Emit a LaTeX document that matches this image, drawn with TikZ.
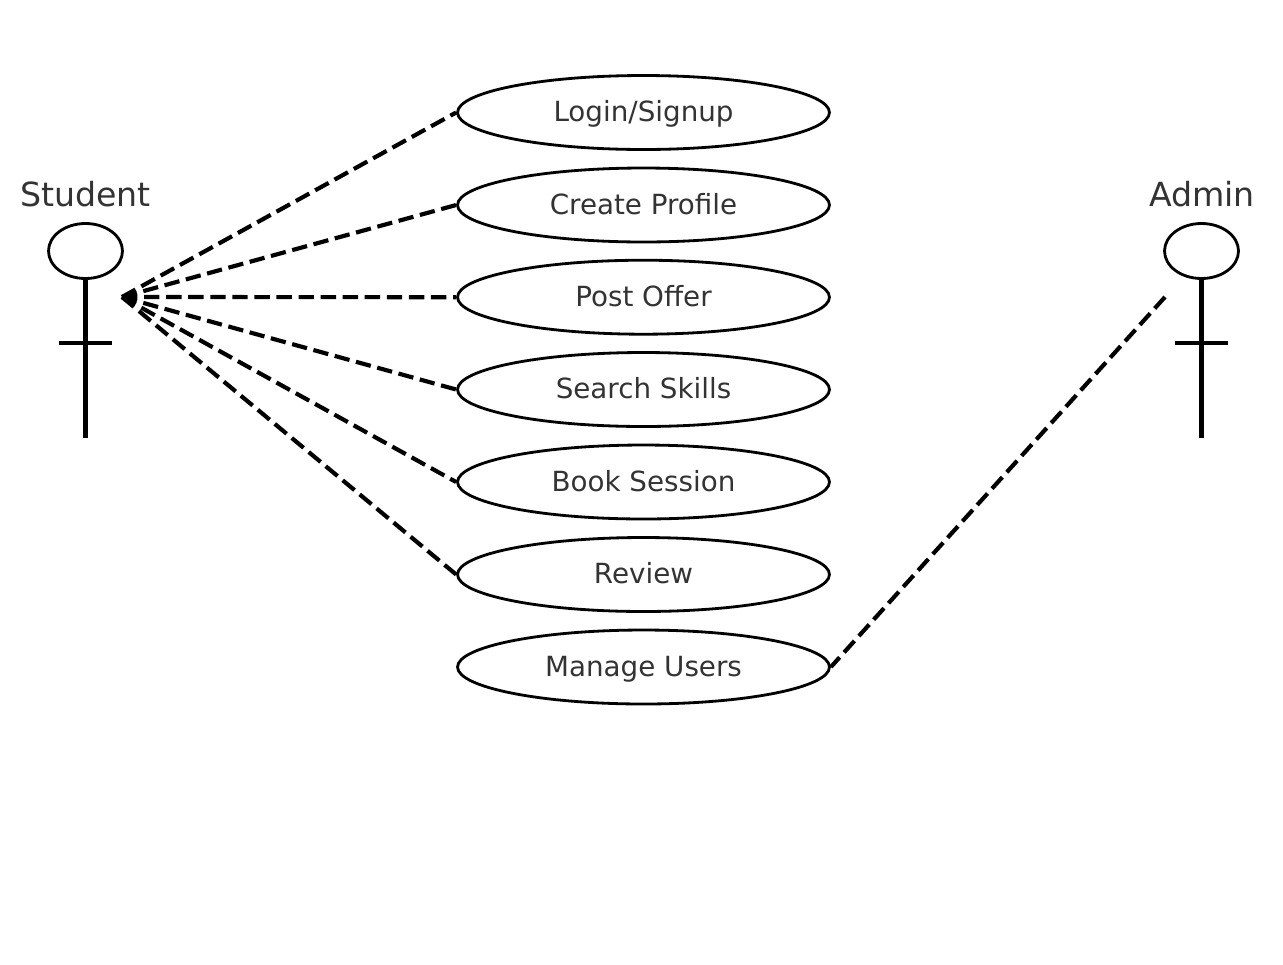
\documentclass[tikz,border=0pt]{standalone}
\usepackage{fontspec}
\setmainfont{DejaVu Sans}
\usetikzlibrary{shapes.geometric}
\definecolor{labelgray}{HTML}{333333}
\tikzset{
  usecase/.style={draw, ellipse, line width=1.6pt, minimum width=7.44cm, minimum height=1.48cm, inner sep=0pt, text=labelgray, text height=11pt, text depth=0.76pt, font=\fontsize{15.8}{18}\selectfont},
  head/.style={draw, ellipse, line width=1.6pt, minimum width=1.48cm, minimum height=1.1cm, inner sep=0pt},
  actorname/.style={text=labelgray, inner sep=0pt, anchor=base, font=\fontsize{18.9}{22}\selectfont},
  limb/.style={line width=2.37pt},
  link/.style={line width=2.37pt, dash pattern=on 8.76pt off 3.8pt}
}
\begin{document}
\begin{tikzpicture}[x=0.02cm, y=-0.02cm]
  \useasboundingbox (0,0) rectangle (1283,964);
  % use cases
  \node[usecase] (login)   at (643.5,112.5) {Login/Signup};
  \node[usecase] (profile) at (643.5,205)   {Create Profile};
  \node[usecase] (offer)   at (643.5,297.2) {Post Offer};
  \node[usecase] (search)  at (643.5,389.5) {Search Skills};
  \node[usecase] (book)    at (643.5,482)   {Book Session};
  \node[usecase] (review)  at (643.5,574.5) {Review};
  \node[usecase] (users)   at (643.5,667)   {Manage Users};
  % student
  \node[actorname] (studentname) at (85.5,206) {Student};
  \node[head] (studenthead) at (85.5,251) {};
  \coordinate (studentfoot) at (85.5,438);
  \coordinate (studentleft) at (59,343);
  \coordinate (studentright) at (112,343);
  \coordinate (student) at (122,297);
  \draw [limb] (studenthead.south) -- (studentfoot);
  \draw [limb] (studentleft) -- (studentright);
  % admin
  \node[actorname] (adminname) at (1202,206) {Admin};
  \node[head] (adminhead) at (1201.5,251) {};
  \coordinate (adminfoot) at (1201.5,438);
  \coordinate (adminleft) at (1175,343);
  \coordinate (adminright) at (1228,343);
  \coordinate (admin) at (1165,297);
  \draw [limb] (adminhead.south) -- (adminfoot);
  \draw [limb] (adminleft) -- (adminright);
  % links
  \draw [link] (student) -- (login.west);
  \draw [link] (student) -- (profile.west);
  \draw [link] (student) -- (offer.west);
  \draw [link] (student) -- (search.west);
  \draw [link] (student) -- (book.west);
  \draw [link] (student) -- (review.west);
  \draw [link] (admin) -- (users.east);
\end{tikzpicture}
\end{document}
